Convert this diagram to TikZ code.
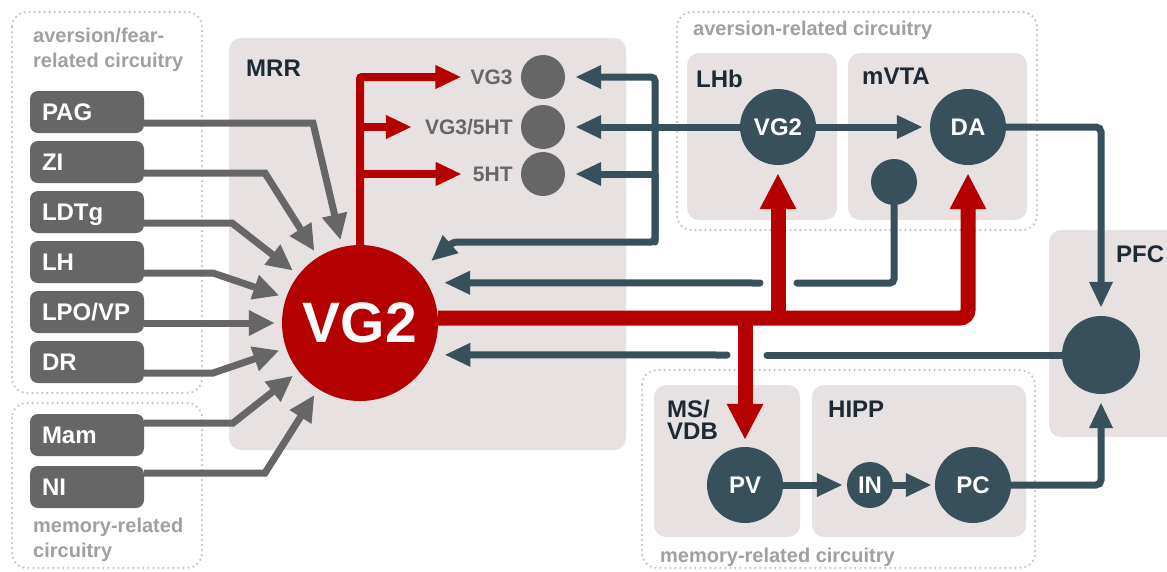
\documentclass[tikz,border=0pt]{standalone}
\usepackage{fontspec}
\setmainfont{Liberation Sans}
\usetikzlibrary{arrows.meta,positioning}
\definecolor{vgred}{HTML}{B40000}
\definecolor{slate}{HTML}{384F5C}
\definecolor{srcgray}{HTML}{666666}
\definecolor{regionbg}{HTML}{E7E1E1}
\definecolor{circgray}{HTML}{A0A0A0}
\definecolor{navy}{HTML}{1B2A35}
\definecolor{dotgray}{HTML}{C4C4C4}

\begin{document}
\begin{tikzpicture}[x=1pt,y=-1pt,
    srcbox/.style={fill=srcgray, text=white, rounded corners=8pt, minimum height=42pt,
      text width=90pt, inner xsep=12pt, inner ysep=0pt, align=left,
      text height=17.2pt, text depth=0pt, font=\fontsize{24}{28}\selectfont\bfseries},
    srcarrow/.style={draw=srcgray, line width=7pt, -{Triangle[length=26pt,width=24pt]}, shorten >=7pt},
    darkarrow/.style={draw=slate, line width=7pt, line cap=round, -{Triangle[length=26pt,width=22pt]}},
    darkline/.style={draw=slate, line width=7pt, line cap=round},
    redthin/.style={draw=vgred, line width=8pt, -{Triangle[length=26pt,width=22pt]}},
    redthick/.style={draw=vgred, line width=15pt, -{Triangle[length=36pt,width=34pt]}},
    bigvg/.style={circle, fill=vgred, text=white, minimum size=156pt, inner sep=0pt,
      font=\fontsize{57}{60}\selectfont\bfseries},
    neuron/.style={circle, fill=slate, text=white, minimum size=76pt, inner sep=0pt,
      font=\fontsize{24}{28}\selectfont\bfseries},
    graydot/.style={circle, fill=srcgray, minimum size=44pt, inner sep=0pt},
    regionlbl/.style={text=navy, inner sep=0pt, align=left, font=\fontsize{24}{22}\selectfont\bfseries},
    circuitlbl/.style={text=circgray, inner sep=0pt, align=left, font=\fontsize{20}{25}\selectfont\bfseries},
    celllbl/.style={text=srcgray, inner sep=0pt, font=\fontsize{21}{25}\selectfont\bfseries},
    region/.style={fill=regionbg, rounded corners=12pt},
    circuit/.style={draw=dotgray, line width=2.5pt, dash pattern=on 0pt off 5pt, line cap=round, rounded corners=15pt}]

    \fill[white] (0,0) rectangle (1167,571);
    \useasboundingbox (0,0) rectangle (1167,571);

    % brain regions
    \fill[region] (229,38) rectangle (626,450);
    \fill[region] (687,53) rectangle (837,220);
    \fill[region] (848,53) rectangle (1027,220);
    \fill[region] (1049,230) rectangle (1185,437);
    \fill[region] (654,385) rectangle (800,537);
    \fill[region] (812,385) rectangle (1026,537);

    % circuitry frames
    \draw[circuit] (12,12) rectangle (202,393);
    \draw[circuit] (12,403) rectangle (202,568);
    \draw[circuit] (677,12) rectangle (1037,230);
    \draw[circuit] (642,370) rectangle (1035,568);

    \node[circuitlbl, anchor=north west] (lblfear) at (33,27.5) {aversion/fear-\\related circuitry};
    \node[circuitlbl, anchor=north west] (lblmemin) at (33,518) {memory-related\\circuitry};
    \node[circuitlbl, anchor=base west] (lblavers) at (693,35) {aversion-related circuitry};
    \node[circuitlbl, anchor=base west] (lblmemout) at (660,562) {memory-related circuitry};

    \node[regionlbl, anchor=base west] (lblmrr) at (246,76) {MRR};
    \node[regionlbl, anchor=base west] (lbllhb) at (696,87) {LHb};
    \node[regionlbl, anchor=base west] (lblvta) at (862,84) {mVTA};
    \node[regionlbl, anchor=base west] (lblpfc) at (1116,262) {PFC};
    \node[regionlbl, anchor=north west] (lblms) at (667,399.5) {MS/\\VDB};
    \node[regionlbl, anchor=base west] (lblhipp) at (828,417) {HIPP};

    % input areas
    \node[srcbox] (pag) at (87,112) {PAG};
    \node[srcbox] (zi) at (87,162) {ZI};
    \node[srcbox] (ldtg) at (87,212) {LDTg};
    \node[srcbox] (lh) at (87,262) {LH};
    \node[srcbox] (lpo) at (87,312) {LPO/VP};
    \node[srcbox] (dr) at (87,362) {DR};
    \node[srcbox] (mam) at (87,435) {Mam};
    \node[srcbox] (ni) at (87,487) {NI};

    % cells
    \node[bigvg] (vg2) at (360,323) {VG2};
    \node[graydot] (c3) at (543,77) {};
    \node[graydot] (c35) at (543,127) {};
    \node[graydot] (c5) at (543,174) {};
    \node[celllbl, left=8pt of c3] (l3) {VG3};
    \node[celllbl, left=8pt of c35] (l35) {VG3/5HT};
    \node[celllbl, left=8pt of c5] (l5) {5HT};

    \node[neuron] (lvg2) at (778,127) {VG2};
    \node[neuron] (da) at (968,127) {DA};
    \node[neuron, minimum size=46pt] (vtadot) at (894,182) {};
    \node[neuron, minimum size=78pt] (pfcdot) at (1101,355) {};
    \node[neuron] (pv) at (745,485) {PV};
    \node[neuron, minimum size=46pt] (hipin) at (870,485) {IN};
    \node[neuron] (pc) at (973,485) {PC};

    % inputs to VG2
    \draw[srcarrow] ([yshift=-11pt]pag.east) -- (313,123) -- (vg2);
    \draw[srcarrow] ([yshift=-11pt]zi.east) -- (265,173) -- (vg2);
    \draw[srcarrow] ([yshift=-11pt]ldtg.east) -- (232,223) -- (vg2);
    \draw[srcarrow] ([yshift=-11pt]lh.east) -- (213,273) -- (vg2);
    \draw[srcarrow] ([yshift=-11pt]lpo.east) -- (vg2);
    \draw[srcarrow] ([yshift=-11pt]dr.east) -- (213,373) -- (vg2);
    \draw[srcarrow] ([yshift=12pt]mam.east) -- (233,423) -- (vg2);
    \draw[srcarrow] ([yshift=14pt]ni.east) -- (265,473) -- (vg2);

    % local targets
    \draw[redthin, rounded corners=2pt, shorten >=9pt] (vg2.north) |- (l3);
    \draw[redthin, shorten >=13pt] (vg2.north |- l35) -- (l35);
    \draw[redthin, shorten >=11pt] (vg2.north |- l5) -- (l5);

    % feedback
    \coordinate (fb) at (655,242);
    \coordinate (fbbend) at (453,242);
    \draw[darkarrow, rounded corners=4pt, shorten >=10pt] (fb) |- (c3);
    \draw[darkarrow, shorten >=10pt] (lvg2) -- (c35);
    \draw[darkarrow, shorten >=10pt] (fb |- c5) -- (c5);
    \draw[darkarrow, rounded corners=4pt, shorten >=16pt] (fb |- c5) -- (fb) -- (fbbend) -- (vg2);

    \coordinate (gapar) at (797,283);
    \coordinate (gapal) at (760,283);
    \draw[darkline, rounded corners=4pt] (vtadot) |- (gapar);
    \draw[darkarrow] (gapal) -- ([xshift=17pt]vg2.31);

    \coordinate (gapbr) at (767,355);
    \coordinate (gapbl) at (727,355);
    \draw[darkline] (pfcdot) -- (gapbr);
    \draw[darkarrow] (gapbl) -- ([xshift=13pt]vg2.-24);

    % long-range output
    \coordinate (rj) at (745,318);
    \draw[redthick, rounded corners=8pt, shorten >=8pt] (vg2.east |- rj) -| (da);
    \draw[redthick, shorten >=8pt] (lvg2 |- rj) -- (lvg2);
    \draw[redthick, shorten >=7pt] (rj) -- (pv);

    % downstream loops
    \draw[darkarrow, shorten >=7pt] (lvg2) -- (da);
    \draw[darkarrow, rounded corners=5pt, shorten >=8pt] (da) -| (pfcdot);
    \draw[darkarrow, rounded corners=5pt, shorten >=8pt] (pc) -| (pfcdot);
    \draw[darkarrow, shorten >=4pt] (pv) -- (hipin);
    \draw[darkarrow, shorten >=3pt] (hipin) -- (pc);
  \end{tikzpicture}
\end{document}
